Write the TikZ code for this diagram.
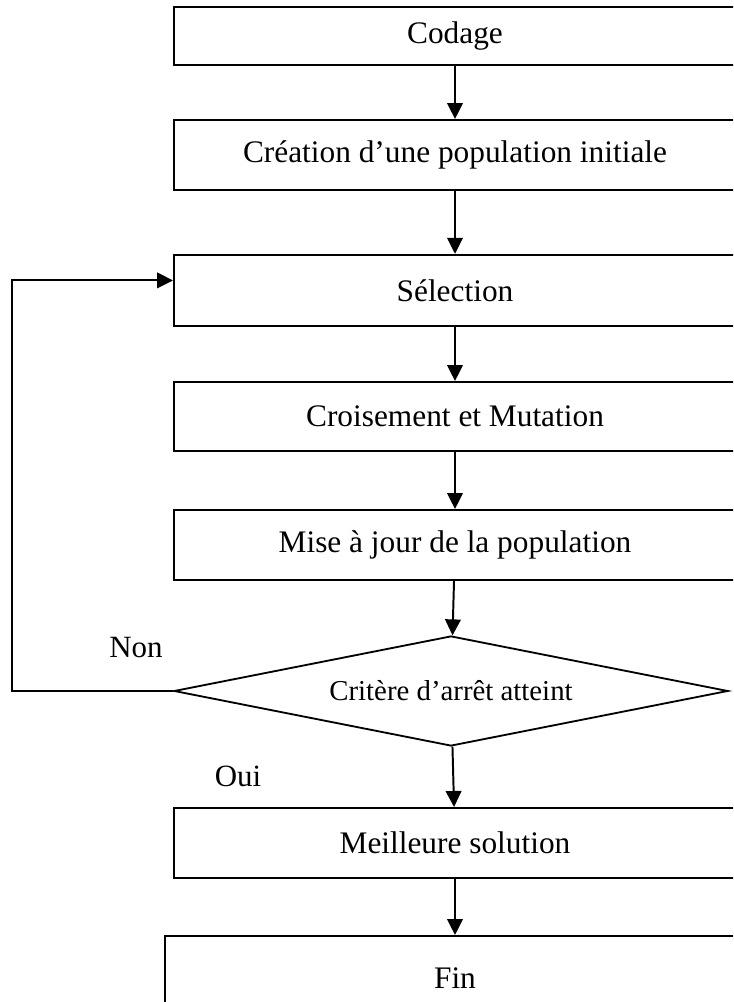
\documentclass[tikz,border=0pt]{standalone}
\usepackage{fontspec}
\setmainfont{Liberation Serif}
\usepackage{tikz}
\usetikzlibrary{arrows.meta,positioning,shapes.geometric}

\begin{document}
\begin{tikzpicture}[
  >=Triangle,
  every node/.style={font=\fontsize{22.3}{26}\selectfont},
  flow/.style={-{Triangle[length=4mm,width=3.9mm]},line width=1.4pt},
  etape/.style={rectangle,draw,line width=1.4pt,minimum width=14.05cm,minimum height=1.75cm,inner sep=0pt},
  test/.style={diamond,draw,line width=1.3pt,aspect=5,minimum width=13.85cm,minimum height=2.75cm,inner sep=0pt,font=\fontsize{20.5}{24}\selectfont},
  reponse/.style={font=\fontsize{22}{26}\selectfont}
]
  \useasboundingbox (0,0) rectangle (18.325,25.05);
  \clip (0,0) rectangle (18.325,25.05);

  \node[etape,minimum height=1.45cm] (codage) at (11.375,24.15) {Codage};
  \node[etape] (creation) at (11.375,21.175) {Création d’une population initiale};
  \node[etape,minimum height=1.78cm] (selection) at (11.375,17.79) {Sélection};
  \node[etape,minimum height=1.72cm] (croisement) at (11.375,14.64) {Croisement et Mutation};
  \node[etape] (maj) at (11.375,11.425) {Mise à jour de la population};
  \node[test] (critere) at (11.275,7.775) {Critère d’arrêt atteint};
  \node[etape] (meilleure) at (11.375,3.975) {Meilleure solution};
  \node[etape,minimum width=14.5cm,minimum height=2.1cm] (fin) at (11.375,0.6) {Fin};

  \node[reponse] (non) at (3.4,8.85) {Non};
  \node[reponse] (oui) at (5.95,5.65) {Oui};

  \draw[flow] (codage) -- (creation);
  \draw[flow] (creation) -- (selection);
  \draw[flow] (selection) -- (croisement);
  \draw[flow] (croisement) -- (maj);
  \draw[flow] (maj) -- (critere);
  \draw[flow] (critere) -- (meilleure);
  \draw[flow] (meilleure) -- (fin);

  % retour vers la selection
  \coordinate (retour) at (0.30,7.775);
  \draw[flow] (critere.west) -- (retour) |- ([yshift=0.25cm]selection.west);
\end{tikzpicture}
\end{document}
